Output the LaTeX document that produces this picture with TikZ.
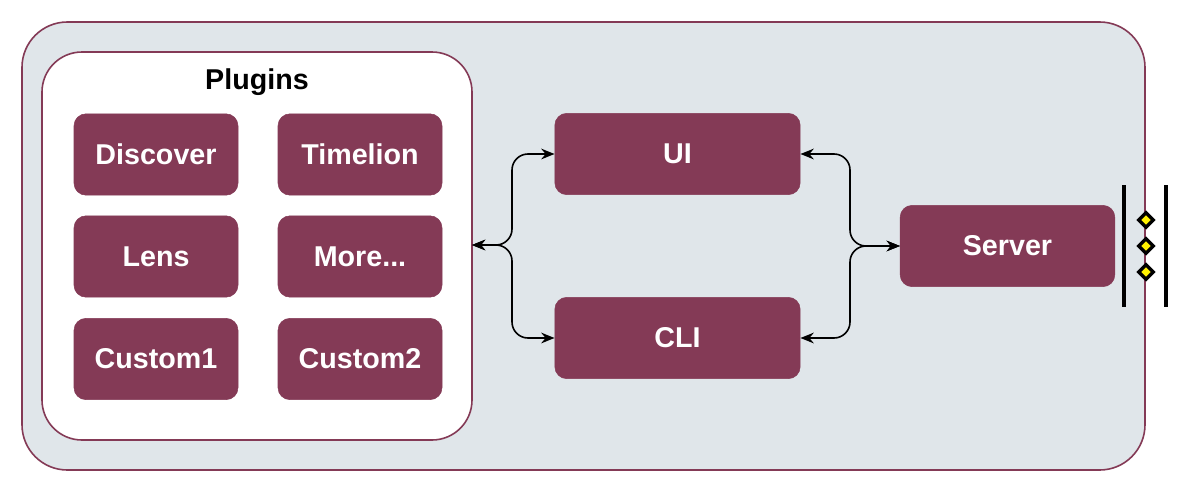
\documentclass[tikz,border=0pt]{standalone}
\usepackage{fontspec}
\setmainfont{Liberation Sans}
\usetikzlibrary{arrows.meta,shapes.geometric}
\definecolor{maroon}{HTML}{843A56}
\definecolor{panel}{HTML}{E0E6EA}
\tikzset{
  box/.style={draw=maroon,fill=maroon,rounded corners=9pt,text=white,font=\fontsize{21.5}{24}\selectfont\bfseries,inner sep=0pt},
  link/.style={{Stealth[length=10pt,width=8pt]}-{Stealth[length=10pt,width=8pt]},line width=1.2pt,rounded corners=12pt},
}
\begin{document}
\begin{tikzpicture}[x=0.75pt,y=-0.75pt]
  \useasboundingbox (0,0) rectangle (1190,493);
  \draw[maroon,fill=panel,line width=1.2pt,rounded corners=34pt] (22,22) rectangle (1145,470);
  \draw[maroon,fill=white,line width=1.2pt,rounded corners=30pt] (42,52) rectangle (472,440);
  \node[font=\fontsize{21.5}{24}\selectfont\bfseries] (title) at (257,82) {Plugins};

  % plugins
  \node[box,minimum width=123pt,minimum height=61pt] (discover) at (156,154.5) {Discover};
  \node[box,minimum width=123pt,minimum height=61pt] (timelion) at (360,154.5) {Timelion};
  \node[box,minimum width=123pt,minimum height=61pt] (lens) at (156,256.5) {Lens};
  \node[box,minimum width=123pt,minimum height=61pt] (more) at (360,256.5) {More...};
  \node[box,minimum width=123pt,minimum height=61pt] (custom1) at (156,359) {Custom1};
  \node[box,minimum width=123pt,minimum height=61pt] (custom2) at (360,359) {Custom2};

  % front ends and server
  \node[box,minimum width=184pt,minimum height=61pt] (ui) at (677.5,154) {UI};
  \node[box,minimum width=184pt,minimum height=61pt] (cli) at (677.5,338) {CLI};
  \node[box,minimum width=161pt,minimum height=61pt] (server) at (1007.5,246) {Server};

  \coordinate (plug) at (472,245);
  \draw[link] (plug) -- (512,245) |- (ui.west);
  \draw[link] (plug) -- (512,245) |- (cli.west);
  \draw[link] (server.west) -- (850,246) |- (ui.east);
  \draw[link] (server.west) -- (850,246) |- (cli.east);

  % port
  \draw[line width=3pt] (1124,185) -- (1124,307);
  \draw[line width=3pt] (1166,185) -- (1166,307);
  \foreach \y in {220,246,272}
    \node[diamond,draw=black,fill=yellow,line width=2.5pt,inner sep=3pt] at (1146,\y) {};
\end{tikzpicture}
\end{document}
